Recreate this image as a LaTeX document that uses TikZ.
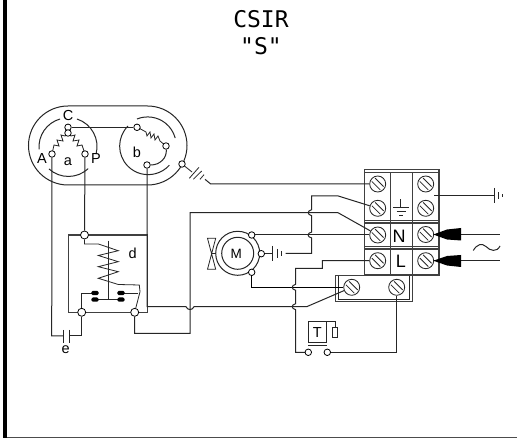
\documentclass[tikz,border=0pt]{standalone}
\usepackage{fontspec}
\setmainfont{Liberation Sans}
\newfontfamily\titlefont{DejaVu Sans Mono}
\tikzset{x=1pt,y=-1pt,
 wire/.style={line width=1pt,draw=black!85,line join=miter},
 dark/.style={line width=1pt,draw=black},
 fine/.style={line width=0.8pt,draw=black!85,line join=miter},
 box/.style={line width=1.1pt,draw=black!75},
 term/.style={circle,draw=black,fill=white,line width=0.8pt,inner sep=0pt,minimum size=6.5pt},
 screw/.style={circle,draw=black!85,line width=0.85pt,inner sep=0pt,minimum size=16pt},
 lab/.style={inner sep=0pt,font=\fontsize{14.5}{14.5}\selectfont},
 title/.style={inner sep=0pt,font=\fontsize{23}{23}\titlefont},
 bigl/.style={inner sep=0pt,font=\fontsize{18}{18}\selectfont}
}
\newcommand{\scr}[3]{\node[screw] (#1) at (#2,#3) {};
 \draw[line width=0.8pt,black!85] (#2-5.9,#3-2.6) -- (#2+2.6,#3+5.9) (#2-2.6,#3-5.9) -- (#2+5.9,#3+2.6);}
\newcommand{\blob}[2]{\fill[black,rounded corners=1.4pt] (#1-3.6,#2-2.1) rectangle (#1+3.6,#2+2.1);}
\begin{document}
\begin{tikzpicture}
\useasboundingbox (0,0) rectangle (517,438);
\fill[white] (0,0) rectangle (517,438);
\fill[black] (2.6,0) rectangle (7.3,438);
\fill[black!70] (7.3,436.6) rectangle (517,438);
\node[title] (t1) at (261,19) {CSIR};
\node[title] (t2) at (261,46) {"S"};
% compressor shell
\draw[wire] (68,106) -- (147.5,106) arc (-90:90:39.5) -- (68,185) arc (90:270:39.5);
% circle a
\draw[wire] (60,119) arc (-106:-185:29);
\draw[wire] (77,119) arc (-72:15:29);
\draw[wire] (49,169) arc (-228:-313:29);
% circle b
\draw[wire] (137,119) arc (-112:-15:28.5);
\draw[wire] (128,126) arc (-135:-318:28.5);
\node[lab] (C) at (68,116) {C};
\node[lab] (A) at (42,159) {A};
\node[lab] (a) at (68,162) {a};
\node[lab] (P) at (96,159) {P};
\node[lab] (b) at (137,152) {b};
% windings
\draw[fine] (68,133) -- (65,136) -- (61,135) -- (63,141) -- (57,140) -- (59,146) -- (54,145) -- (52,154);
\draw[fine] (68,133) -- (71,136) -- (75,135) -- (73,141) -- (79,140) -- (77,146) -- (82,145) -- (85,154);
\draw[fine] (137,127) -- (146,132) -- (147,136) -- (150,132) -- (151,138) -- (154,134) -- (155,140) -- (158,136) -- (160,141) -- (166,146);
\node[term] (tc) at (68,127.3) {};
\node[term] (tc2) at (68,133) {};
\node[term] (ta) at (52,154) {};
\node[term] (tp) at (85,154) {};
\node[term] (tbt) at (137,127.3) {};
\node[term] (tbr) at (166,146) {};
\node[term] (tbb) at (147,165) {};
\node[term] (tg) at (182,164) {};
\draw[wire] (tc) -- (tbt);
\draw[wire] (tbr) .. controls (167,158) and (160,165) .. (tbb);
% relay
\draw[box] (68.3,235) rectangle (147.3,312.3);
\node[term,minimum size=8pt] (rt) at (84.5,235) {};
\node[term,minimum size=8pt] (rl) at (81.7,312.3) {};
\node[term,minimum size=8pt] (rr) at (134.7,312.3) {};
\node[lab] (d) at (132.7,253.5) {d};
\draw[fine] (108.3,240.7) -- (108.3,300);
\draw[fine] (rt) -- (84.5,244) -- (98.3,244) -- (118.3,250.7) -- (98.3,255.5) -- (118.3,261.7) -- (98.3,266.7) -- (118.3,271.7) -- (98.3,278.3) -- (118.3,284.5) -- (139.3,285) -- (140,291.7) -- (rr);
\draw[wire] (rl) -- (81.7,293.3) -- (95,293.3);
\draw[wire] (121,293.3) -- (137.5,293.3);
\draw[wire] (95,300) -- (121,300);
\blob{95}{293}\blob{95}{299.6}\blob{121}{293}\blob{121}{299.6}
% capacitor
\coordinate (cl) at (63,336);
\coordinate (cr) at (69,336);
\draw[wire] (ta) -- (51.7,336) -- (cl);
\draw[wire] (rl) -- (81.7,336) -- (cr);
\draw[wire] (63,330) -- (63,343) (69,330) -- (69,343);
\node[lab] (e) at (65.7,350) {e};
\draw[wire] (tp) -- (rt);
% motor
\draw[wire] (237.7,253.3) circle (22);
\draw[wire] (237.7,253.3) circle (16);
\node[lab,font=\fontsize{13.5}{13.5}\selectfont] (M) at (236.3,253.5) {M};
\node[term] (mt) at (251.7,235) {};
\node[term] (mr) at (261.3,253.7) {};
\node[term] (mb) at (251.7,272.3) {};
\draw[fine] (207.5,238.3) -- (215.7,238.3) -- (207.5,269.3) -- (215.7,269.3) -- cycle;
\draw[fine] (212,253.5) -- (215.7,253.5);
% terminal strip
\draw[box] (364.3,169.3) rectangle (439,275);
\draw[box] (364.3,172.3) -- (439,172.3);
\draw[box] (364.3,220.6) -- (439,220.6) (364.3,223) -- (439,223);
\draw[box] (364.3,246.6) -- (439,246.6) (364.3,249) -- (439,249);
\draw[box] (390.7,172.3) -- (390.7,275) (412.3,172.3) -- (412.3,275);
\draw[fine] (400.7,199.3) -- (400.7,207.7) (393.3,207.7) -- (409.3,207.7) (396.7,211) -- (406,211) (399.3,215) -- (403.3,215);
\node[bigl] (N) at (399,236) {N};
\node[bigl] (L) at (401,261.5) {L};
\scr{sa}{377.7}{184}
\scr{sb}{377.7}{208.3}
\scr{sn}{377.7}{235}
\scr{sl}{377.7}{260.7}
\scr{sc}{425.7}{184}
\scr{sd}{425.7}{208.3}
\scr{se}{425.7}{234.5}
\scr{sf}{425.7}{260.7}
% lower strip
\draw[box] (335.7,275.7) rectangle (412.7,301.7);
\draw[fine] (338,275.7) -- (338,299) -- (409.3,299) -- (409.3,275.7);
\scr{su}{351.7}{287.3}
\scr{sv}{396.7}{287.3}
% line arrows
\coordinate (lin) at (500,234.5);
\coordinate (lil) at (500,260.7);
\draw[wire] (se) -- (lin);
\draw[wire] (sf) -- (lil);
\fill[black] (433.3,234.5) -- (447,229.5) -- (461,228) -- (461,240.5) -- (447,239.5) -- cycle;
\fill[black] (433.3,260.7) -- (447,256) -- (461,255) -- (461,267) -- (447,265.5) -- cycle;
\draw[wire] (473.3,250.5) .. controls (477,244) and (482,243) .. (486,246.5) .. controls (490,251) and (497,252.5) .. (500,246);
% earth right
\coordinate (gr) at (494,196);
\draw[wire] (434,196) -- (gr);
\draw[wire] (494,188) -- (494,203) (498.3,192.5) -- (498.3,199.5) (502,194.5) -- (502,197.5);
% wires
\draw[fine] (tg) -- (192,172);
\draw[fine] (189.3,178.3) -- (199,167.3) (193.3,179.3) -- (201.7,171) (200,179.3) -- (204,174.7);
\draw[wire] (205,179.3) -- (210.7,184) -- (sa);
\draw[wire] (tbb) -- (147,306.7) -- (186,306.7) .. controls (187.5,310.5) and (192.5,310.5) .. (194,306.7) -- (293,306.7) -- (306.7,306.7) -- (su);
\draw[wire] (rr) -- (134.7,333.3) -- (190,333.3) -- (190,212.7) -- (308,212.7) -- (338,212.7) -- (sn);
\draw[wire] (mt) -- (sn);
% earth motor
\draw[wire] (mr) -- (272.3,253.7);
\draw[wire] (272.3,246) -- (272.3,261) (277.3,249) -- (277.3,258) (281.3,251) -- (281.3,256);
\coordinate (gm) at (285.7,253.5);
\draw[wire] (gm) -- (311.7,253.5) -- (311.7,238) .. controls (307,237) and (307,233) .. (311.7,232) -- (311.7,215.7) .. controls (307,214.7) and (307,210.7) .. (311.7,209.7) -- (311.7,196) -- (338.3,196) -- (sb);
% motor bottom to screw
\draw[dark] (mb) -- (251.7,287.3) -- (su);
% L wire
\draw[wire] (sl) -- (322.3,260.7) -- (322.3,268.3) -- (295.7,268.3) -- (295.7,284.3) .. controls (291,285.3) and (291,289.3) .. (295.7,290.3) -- (295.7,303.7) .. controls (291,304.7) and (291,308.7) .. (295.7,309.7) -- (295.7,352.3) -- (308.3,352.3);
\node[term] (ta1) at (308.3,352.3) {};
\node[term] (ta2) at (327.3,352.3) {};
\draw[wire] (ta2) -- (396.7,352.3) -- (sv);
% thermostat
\draw[fine] (308.3,321) rectangle (326.7,342.7);
\draw[fine] (308.3,345.3) -- (326.7,345.3);
\draw[fine] (326.7,321) -- (335,321) -- (335,327.4);
\draw[fine] (332.3,327.4) rectangle (337.5,337.3);
\node[lab] (T) at (317.4,332.3) {T};
\end{tikzpicture}
\end{document}
